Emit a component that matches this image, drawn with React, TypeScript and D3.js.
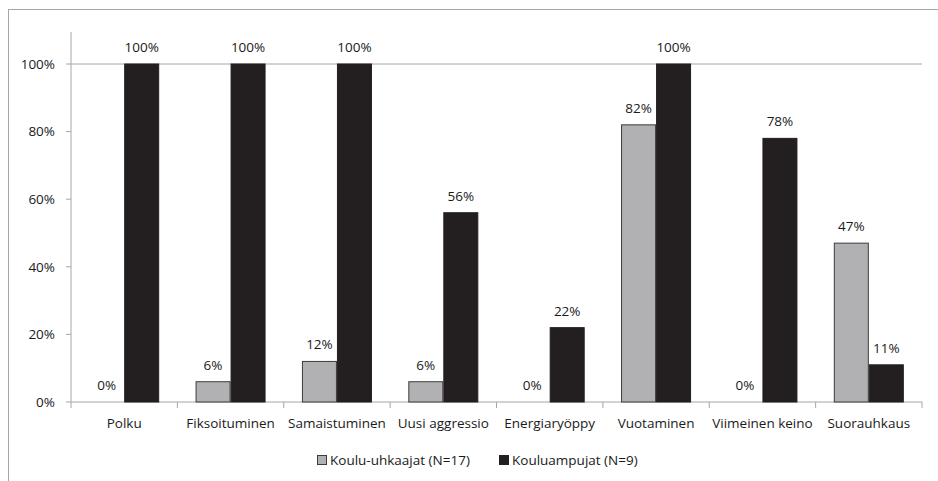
import React from "react";
import * as d3 from "d3";

const categories = ["Polku", "Fiksoituminen", "Samaistuminen", "Uusi aggressio", "Energiaryöppy", "Vuotaminen", "Viimeinen keino", "Suorauhkaus"];
const threateners = [0, 6, 12, 6, 0, 82, 0, 47];
const shooters = [100, 100, 100, 56, 22, 100, 78, 11];
const yTicks = [0, 20, 40, 60, 80, 100];
const seriesNames = ["Koulu-uhkaajat (N=17)", "Kouluampujat (N=9)"];

const W = 938, H = 481;
const left = 71, right = 922, top = 64, bottom = 402;
const FONT = "'Open Sans', sans-serif";
const FS = 13.5;

export default function App() {
  const x = d3.scaleBand().domain(categories).range([left, right]).paddingInner(0).paddingOuter(0);
  const y = d3.scaleLinear().domain([0, 100]).range([bottom, top]);
  const bw = 35;
  const series = [
    { vals: threateners, fill: "#b1b1b3", stroke: "#3c3c3c", off: -bw },
    { vals: shooters, fill: "#231f20", stroke: "#231f20", off: 0 },
  ];
  return (
    <svg width={W} height={H} style={{ position: "absolute", left: 0, top: 0, background: "#fff" }}>
      <rect x={8.5} y={9.5} width={W + 20} height={H + 20} fill="none" stroke="#a6a6a6" strokeWidth={1} />
      <line x1={left} x2={right} y1={y(100)} y2={y(100)} stroke="#a6a6a6" strokeWidth={1} />
      <line x1={left} x2={left} y1={top - 32} y2={bottom} stroke="#a6a6a6" />
      <line x1={left} x2={right} y1={bottom} y2={bottom} stroke="#a6a6a6" />
      {yTicks.map((t) => (
        <g key={t}>
          <line x1={left - 5} x2={left} y1={y(t)} y2={y(t)} stroke="#a6a6a6" />
          <text x={55} y={y(t)} dy="0.35em" textAnchor="end" fontFamily={FONT} fontSize={FS} fill="#1a1a1a">{t}%</text>
        </g>
      ))}
      {d3.range(categories.length + 1).map((i) => {
        const xx = left + i * x.bandwidth();
        return <line key={i} x1={xx} x2={xx} y1={bottom} y2={bottom + 6} stroke="#a6a6a6" />;
      })}
      {categories.map((c, i) => {
        const cx = (x(c) as number) + x.bandwidth() / 2;
        return (
          <g key={c}>
            {series.map((s, j) => {
              const v = s.vals[i];
              return (
                <g key={j}>
                  {v > 0 && (
                    <rect x={cx + s.off + 0.5} y={y(v)} width={bw - 1} height={bottom - y(v)} fill={s.fill} stroke={s.stroke} strokeWidth={1} />
                  )}
                  <text x={cx + s.off + bw / 2} y={y(v) - 12} textAnchor="middle" fontFamily={FONT} fontSize={FS} fill="#1a1a1a">{v}%</text>
                </g>
              );
            })}
            <text x={cx} y={423} dy="0.35em" textAnchor="middle" fontFamily={FONT} fontSize={FS} fill="#1a1a1a">{c}</text>
          </g>
        );
      })}
      <g>
        <rect x={317.5} y={455.5} width={9} height={9} fill="#b1b1b3" stroke="#3c3c3c" />
        <text x={330} y={460} dy="0.35em" fontFamily={FONT} fontSize={FS} fill="#1a1a1a">{seriesNames[0]}</text>
        <rect x={499.5} y={455.5} width={9} height={9} fill="#231f20" stroke="#231f20" />
        <text x={512} y={460} dy="0.35em" fontFamily={FONT} fontSize={FS} fill="#1a1a1a">{seriesNames[1]}</text>
      </g>
    </svg>
  );
}
